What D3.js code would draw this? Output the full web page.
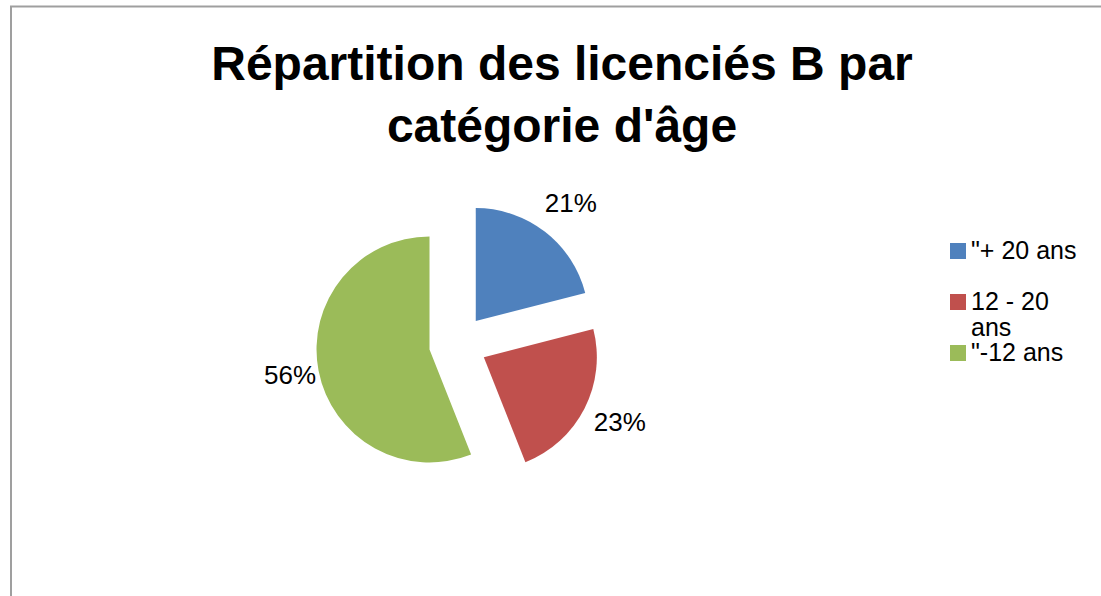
<!DOCTYPE html>
<html>
<head>
<meta charset="utf-8">
<script src="https://cdn.jsdelivr.net/npm/d3@7"></script>
<style>
  body { margin: 0; background: #fff; }
  text { font-family: "Liberation Sans", Arial, sans-serif; fill: #000; }
</style>
</head>
<body>
<svg id="chart" width="1101" height="596"></svg>
<script>
// données
const categories = ["\"+ 20 ans", "12 - 20 ans", "\"-12 ans"];
const legendLines = [["\"+ 20 ans"], ["12 - 20", "ans"], ["\"-12 ans"]];
const values = [21, 23, 56];
const colors = ["#4F81BD", "#C0504D", "#9BBB59"];
const titleLines = ["Répartition des licenciés B par", "catégorie d'âge"];

const width = 1101, height = 596;
const cx = 458, cy = 344;
const radius = 113;
const explode = 29;

const svg = d3.select("#chart");

// cadre
svg.append("rect")
   .attr("x", 11)
   .attr("y", 6.5)
   .attr("width", 1200)
   .attr("height", 700)
   .attr("fill", "#fff")
   .attr("stroke", "#9f9f9f")
   .attr("stroke-width", 2);

// titre
svg.selectAll(".title")
   .data(titleLines)
   .enter()
   .append("text")
   .attr("class", "title")
   .attr("x", 562)
   .attr("y", (d, i) => 80 + i * 62)
   .attr("text-anchor", "middle")
   .attr("font-size", 48)
   .attr("font-weight", "bold")
   .text(d => d);

const pie = d3.pie().sort(null).value(d => d)
              .startAngle(0).endAngle(2 * Math.PI);
const arcs = pie(values);

const arc = d3.arc().innerRadius(0).outerRadius(radius);
const labelArc = d3.arc().innerRadius(176).outerRadius(176);

const g = svg.append("g").attr("transform", `translate(${cx},${cy})`);

g.selectAll(".slice")
 .data(arcs)
 .enter()
 .append("path")
 .attr("class", "slice")
 .attr("d", arc)
 .attr("fill", (d, i) => colors[i])
 .attr("transform", d => {
   const a = (d.startAngle + d.endAngle) / 2;
   return `translate(${explode * Math.sin(a)},${-explode * Math.cos(a)})`;
 });

g.selectAll(".label")
 .data(arcs)
 .enter()
 .append("text")
 .attr("class", "label")
 .attr("x", d => labelArc.centroid(d)[0] + 5)
 .attr("y", d => labelArc.centroid(d)[1] + 7)
 .attr("text-anchor", "middle")
 .attr("font-size", 26)
 .text(d => Math.round(d.value) + "%");

// légende
const legend = svg.append("g").attr("transform", "translate(950,243)");

const item = legend.selectAll(".item")
  .data(categories)
  .enter()
  .append("g")
  .attr("class", "item")
  .attr("transform", (d, i) => `translate(0,${i * 51})`);

item.append("rect")
    .attr("width", 16)
    .attr("height", 16)
    .attr("fill", (d, i) => colors[i]);

item.each(function(d, i) {
  d3.select(this).selectAll("text")
    .data(legendLines[i])
    .enter()
    .append("text")
    .attr("x", 21)
    .attr("y", (t, j) => 16 + j * 26)
    .attr("font-size", 25)
    .text(t => t);
});
</script>
</body>
</html>
